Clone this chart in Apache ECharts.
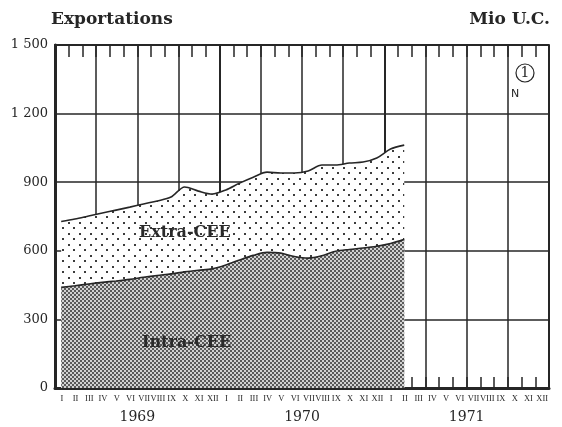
<!DOCTYPE html>
<html>
<head>
<meta charset="utf-8">
<script src="https://cdn.jsdelivr.net/npm/echarts@6/dist/echarts.min.js"></script>
<style>
	html,body{margin:0;padding:0;background:#fff;}
	#chart{width:562px;height:427px;}
</style>
</head>
<body>
<div id="chart"></div>
<script>
	// mois en chiffres romains, 3 ans
	var moisRomains = ['I','II','III','IV','V','VI','VII','VIII','IX','X','XI','XII'];
	var annees = ['1969','1970','1971'];
	var mois = annees.reduce(function(acc){ return acc.concat(moisRomains); }, []);
	var yTicks = [0, 300, 600, 900, 1200, 1500];

	// exportations totales (Intra + Extra), Mio U.C., janv. 1969 - fév. 1971
	var total = [728, 739, 752, 765, 778, 791, 805, 818, 835, 879, 861, 848,
		866, 896, 922, 944, 940, 940, 949, 975, 975, 984, 988, 1006, 1045, 1062];
	// exportations intra-CEE
	var intra = [440, 447, 455, 462, 468, 475, 484, 492, 499, 508, 515, 521,
		538, 560, 580, 593, 590, 575, 568, 578, 598, 606, 612, 620, 632, 650];

	function pattern(size, bg, fg, dots){
		var c = document.createElement('canvas');
		c.width = size; c.height = size;
		var ctx = c.getContext('2d');
		ctx.fillStyle = bg;
		ctx.fillRect(0, 0, size, size);
		ctx.fillStyle = fg;
		dots.forEach(function(d){ ctx.fillRect(d[0], d[1], d[2], d[2]); });
		return c;
	}
	var pointille = pattern(11, '#ffffff', '#3c3c3c', [[2,2,2],[7,7,2]]);
	var trame = pattern(4, '#d2d2d2', '#5a5a5a', [[0,0,2],[2,2,2]]);

	function pts(arr){
		return arr.map(function(v, i){ return [i + 0.45, v]; });
	}

	var serif = '"DejaVu Serif", "Liberation Serif", serif';
	var ink = '#262626';

	var chart = echarts.init(document.getElementById('chart'));
	var option = {
		backgroundColor: '#fff',
		animation: false,
		grid: {left: 55, right: 13, top: 45, bottom: 39},
		xAxis: [
			{// lignes trimestrielles
				type: 'value', min: 0, max: 36, interval: 3,
				axisLine: {show: false}, axisTick: {show: false}, axisLabel: {show: false},
				splitLine: {show: true, lineStyle: {color: ink, width: 1.5}}
			},
			{// lignes annuelles, plus épaisses
				type: 'value', min: 0, max: 36, interval: 12,
				axisLine: {show: false}, axisTick: {show: false}, axisLabel: {show: false},
				splitLine: {show: true, lineStyle: {color: ink, width: 2}}
			},
			{// mois en bas
				type: 'category', data: mois, position: 'bottom', boundaryGap: true,
				axisLine: {show: true, lineStyle: {color: ink, width: 3}},
				axisTick: {show: true, inside: true, length: 11, interval: 0, lineStyle: {color: ink, width: 1.5}},
				axisLabel: {interval: 0, margin: 6, fontFamily: '"Liberation Serif", serif', fontSize: 8.5, color: ink},
				splitLine: {show: false}
			},
			{// graduations en haut
				type: 'category', data: mois, position: 'top', boundaryGap: true,
				axisLine: {show: true, lineStyle: {color: ink, width: 2}},
				axisTick: {show: true, inside: true, length: 12, interval: 0, lineStyle: {color: ink, width: 1.5}},
				axisLabel: {show: false},
				splitLine: {show: false}
			},
			{// années
				type: 'category', data: annees, position: 'bottom', boundaryGap: true,
				axisLine: {show: false}, axisTick: {show: false},
				axisLabel: {margin: 22, fontFamily: serif, fontSize: 14, color: ink},
				splitLine: {show: false}
			}
		],
		yAxis: [
			{
				type: 'value', min: 0, max: 1500, interval: 300,
				axisLine: {show: true, lineStyle: {color: ink, width: 3}},
				axisTick: {show: false},
				axisLabel: {margin: 7, fontFamily: serif, fontSize: 13, color: ink,
					formatter: function(v){ return yTicks.indexOf(v) < 0 ? '' : String(v).replace(/\B(?=(\d{3})+(?!\d))/g, ' '); }},
				splitLine: {show: true, lineStyle: {color: ink, width: 1.5}}
			},
			{
				type: 'value', min: 0, max: 1500, interval: 300, position: 'right',
				axisLine: {show: true, lineStyle: {color: ink, width: 1.5}},
				axisTick: {show: false}, axisLabel: {show: false}, splitLine: {show: false}
			}
		],
		series: [
			{
				name: 'Extra-CEE', type: 'line', xAxisIndex: 0, yAxisIndex: 0,
				data: pts(total), symbol: 'none', smooth: 0.3,
				lineStyle: {color: ink, width: 1.6},
				areaStyle: {color: {image: pointille, repeat: 'repeat'}, opacity: 1},
				z: 3
			},
			{
				name: 'Intra-CEE', type: 'line', xAxisIndex: 0, yAxisIndex: 0,
				data: pts(intra), symbol: 'none', smooth: 0.3,
				lineStyle: {color: ink, width: 1.6},
				areaStyle: {color: {image: trame, repeat: 'repeat'}, opacity: 1},
				z: 4
			}
		],
		graphic: [
			{type: 'text', left: 51, top: 11, z: 10,
				style: {text: 'Exportations', font: 'bold 17px ' + serif, fill: ink}},
			{type: 'text', right: 12, top: 11, z: 10,
				style: {text: 'Mio U.C.', font: 'bold 17px ' + serif, fill: ink}},
			{type: 'text', left: 139, top: 225, z: 10,
				style: {text: 'Extra-CEE', font: 'bold 16px ' + serif, fill: '#2a2a2a'}},
			{type: 'text', left: 142, top: 335, z: 10,
				style: {text: 'Intra-CEE', font: 'bold 16px ' + serif, fill: '#2a2a2a'}},
			{type: 'circle', shape: {cx: 525, cy: 73, r: 9}, z: 10,
				style: {fill: '#fff', stroke: ink, lineWidth: 1.2}},
			{type: 'text', x: 525, y: 73, z: 11,
				style: {text: '1', font: '14px ' + serif, fill: ink, align: 'center', verticalAlign: 'middle'}},
			{type: 'text', x: 515, y: 94, z: 10,
				style: {text: 'N', font: '11px "DejaVu Sans", sans-serif', fill: ink, align: 'center', verticalAlign: 'middle'}}
		]
	};
	chart.setOption(option);
</script>
</body>
</html>
